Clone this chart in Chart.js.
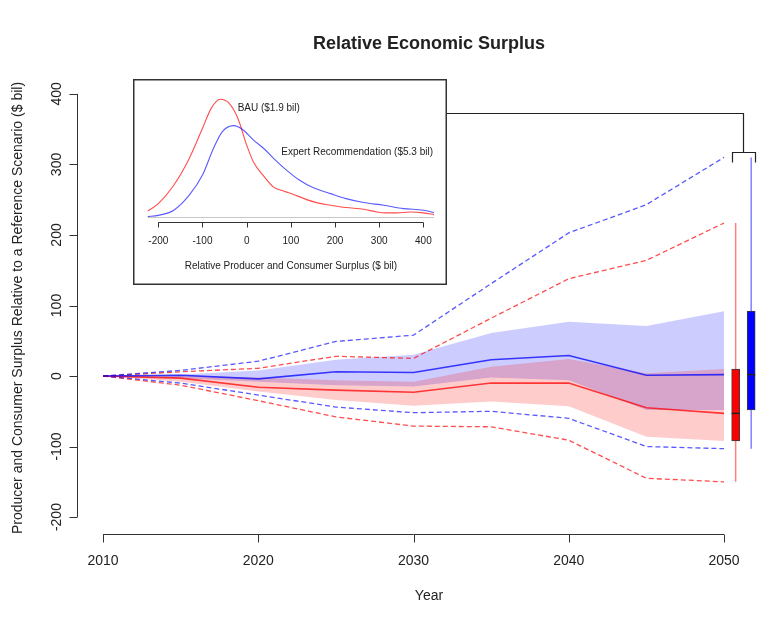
<!DOCTYPE html>
<html>
<head>
<meta charset="utf-8">
<script src="https://cdn.jsdelivr.net/npm/chart.js@4.4.1/dist/chart.umd.min.js"></script>
<style>
  body { margin: 0; background: #fff; }
  #wrap { position: relative; width: 774px; height: 620px; }
  #main { position: absolute; left: 0; top: 0; }
  #inset { position: absolute; left: 133px; top: 79px; background: #fff; }
</style>
</head>
<body>
<div id="wrap">
  <canvas id="main" width="774" height="620"></canvas>
  <canvas id="inset" width="314" height="206"></canvas>
</div>
<script>
// surplus relative to reference scenario, $ bil
const years = [2010, 2015, 2020, 2025, 2030, 2035, 2040, 2045, 2050];

// BAU (red) percentiles
const bauP95 = [0, 6, 11, 28, 25, 82, 138, 164, 217];
const bauP75 = [0, 0, -2, -6, -8, 13, 24, 4, 10];
const bauMed = [0, -3, -16, -20, -23, -10, -10, -45, -53];
const bauP25 = [0, -8, -22, -34, -42, -36, -43, -86, -92];
const bauP5 = [0, -13, -35, -58, -71, -72, -91, -145, -150];

// Expert recommendation (blue) percentiles
const recP95 = [0, 8, 21, 49, 58, 131, 203, 243, 310];
const recP75 = [0, 2, 8, 23, 30, 61, 77, 71, 92];
const recMed = [0, 1, -4, 6, 5, 23, 29, 1, 2];
const recP25 = [0, -3, -8, -13, -15, -2, -6, -48, -48];
const recP5 = [0, -10, -27, -44, -52, -50, -60, -100, -103];

// boxplots of the 2050 distribution, placed just right of 2050
const boxX = [2050.75, 2051.75];
const boxHalf = 0.26;

const yearTicks = [2010, 2020, 2030, 2040, 2050];
const surplusTicks = [-200, -100, 0, 100, 200, 300, 400];

// cumulative surplus densities for the inset
const bauDensX = [-225, -200, -165, -130, -100, -80, -60, -40, -20, 0, 15, 40, 60, 85, 105, 130, 160, 190, 225, 265, 295, 315, 340, 370, 400, 425];
const bauDens = [0.32, 0.75, 1.78, 3.28, 4.97, 6.10, 6.60, 6.38, 5.53, 4.03, 3.10, 2.25, 1.69, 1.44, 1.28, 1.03, 0.79, 0.66, 0.53, 0.43, 0.28, 0.23, 0.23, 0.28, 0.23, 0.13];
const recDensX = [-225, -200, -165, -130, -100, -75, -55, -30, -10, 15, 40, 65, 90, 120, 150, 190, 225, 265, 310, 355, 400, 425];
const recDens = [0.02, 0.09, 0.38, 1.22, 2.35, 3.85, 4.78, 5.12, 4.92, 4.32, 3.81, 3.19, 2.63, 2.06, 1.65, 1.31, 1.03, 0.81, 0.66, 0.47, 0.38, 0.24];
const densTicks = [-200, -100, 0, 100, 200, 300, 400];

const FONT = '"Liberation Sans", Arial, sans-serif';
const INK = '#222';

const pts = (xs, ys) => xs.map((v, i) => ({ x: v, y: ys[i] }));

const RED_LINE = 'rgba(255,0,0,0.7)';
const BLUE_LINE = 'rgba(0,0,255,0.65)';
const dashed = (vals, color) => ({
    data: pts(years, vals), borderColor: color, borderWidth: 1.3,
    borderDash: [5, 3], fill: false, order: 5
});

const datasets = [
    // interquartile bands
    { data: pts(years, recP75), borderWidth: 0, fill: '+1', backgroundColor: 'rgba(0,0,255,0.2)', order: 10 },
    { data: pts(years, recP25), borderWidth: 0, fill: false, order: 10 },
    { data: pts(years, bauP75), borderWidth: 0, fill: '+1', backgroundColor: 'rgba(255,0,0,0.2)', order: 9 },
    { data: pts(years, bauP25), borderWidth: 0, fill: false, order: 9 },
    // 5th / 95th percentiles
    dashed(recP95, BLUE_LINE),
    dashed(recP5, BLUE_LINE),
    dashed(bauP95, RED_LINE),
    dashed(bauP5, RED_LINE),
    // medians
    { data: pts(years, recMed), borderColor: 'rgba(0,0,255,0.75)', borderWidth: 1.6, fill: false, order: 4 },
    { data: pts(years, bauMed), borderColor: 'rgba(255,0,0,0.75)', borderWidth: 1.6, fill: false, order: 4 },
    // whiskers
    { data: [{ x: boxX[0], y: bauP5.at(-1) }, { x: boxX[0], y: bauP95.at(-1) }], borderColor: 'rgba(255,0,0,0.5)', borderWidth: 1.5, fill: false, order: 3 },
    { data: [{ x: boxX[1], y: recP5.at(-1) }, { x: boxX[1], y: recP95.at(-1) }], borderColor: 'rgba(0,0,255,0.5)', borderWidth: 1.5, fill: false, order: 3 },
    // boxes
    {
        type: 'bar', order: 2, grouped: false, barThickness: 8,
        data: [
            { x: boxX[0], y: [bauP25.at(-1), bauP75.at(-1)] },
            { x: boxX[1], y: [recP25.at(-1), recP75.at(-1)] }
        ],
        backgroundColor: ['#ff0000', '#0000ff'],
        borderColor: '#3a3a3a', borderWidth: 1, borderSkipped: false
    },
    // box medians
    { data: [{ x: boxX[0] - boxHalf, y: bauMed.at(-1) }, { x: boxX[0] + boxHalf, y: bauMed.at(-1) }], borderColor: '#222', borderWidth: 1.5, fill: false, order: 1 },
    { data: [{ x: boxX[1] - boxHalf, y: recMed.at(-1) }, { x: boxX[1] + boxHalf, y: recMed.at(-1) }], borderColor: '#222', borderWidth: 1.5, fill: false, order: 1 }
];

const insetRight = 133 + 314;
const insetLinkY = 113;
const bracketY = 318;
const centerX = 429;

const frame = {
    id: 'frame',
    afterDraw(chart) {
        const { ctx, chartArea } = chart;
        const x = chart.scales.x, y = chart.scales.y;
        ctx.save();
        ctx.strokeStyle = '#333';
        ctx.fillStyle = INK;
        ctx.lineWidth = 1;

        // x axis
        const xb = Math.round(chartArea.bottom) + 0.5;
        ctx.beginPath();
        ctx.moveTo(x.getPixelForValue(yearTicks[0]), xb);
        ctx.lineTo(x.getPixelForValue(yearTicks.at(-1)), xb);
        yearTicks.forEach(t => {
            const px = Math.round(x.getPixelForValue(t)) + 0.5;
            ctx.moveTo(px, xb);
            ctx.lineTo(px, xb + 8);
        });
        // y axis
        const yl = Math.round(chartArea.left) + 0.5;
        ctx.moveTo(yl, y.getPixelForValue(surplusTicks[0]));
        ctx.lineTo(yl, y.getPixelForValue(surplusTicks.at(-1)));
        surplusTicks.forEach(t => {
            const py = Math.round(y.getPixelForValue(t)) + 0.5;
            ctx.moveTo(yl, py);
            ctx.lineTo(yl - 8, py);
        });
        ctx.stroke();

        ctx.font = '14px ' + FONT;
        ctx.textAlign = 'center';
        ctx.textBaseline = 'middle';
        yearTicks.forEach(t => ctx.fillText(String(t), x.getPixelForValue(t), xb + 27));
        ctx.fillText('Year', centerX, 596);
        surplusTicks.forEach(t => {
            ctx.save();
            ctx.translate(yl - 20, y.getPixelForValue(t));
            ctx.rotate(-Math.PI / 2);
            ctx.fillText(String(t), 0, 0);
            ctx.restore();
        });
        ctx.save();
        ctx.translate(18, 308);
        ctx.rotate(-Math.PI / 2);
        ctx.fillText('Producer and Consumer Surplus Relative to a Reference Scenario ($ bil)', 0, 0);
        ctx.restore();

        ctx.font = 'bold 18px ' + FONT;
        ctx.fillText('Relative Economic Surplus', centerX, 44);

        // bracket tying the inset to the 2050 boxplots
        const bx0 = x.getPixelForValue(boxX[0] - boxHalf);
        const bx1 = x.getPixelForValue(boxX[1] + boxHalf);
        const bm = Math.round((bx0 + bx1) / 2) + 0.5;
        const by = Math.round(y.getPixelForValue(bracketY)) + 0.5;
        ctx.strokeStyle = '#222';
        ctx.lineWidth = 1.2;
        ctx.beginPath();
        ctx.moveTo(insetRight, insetLinkY + 0.5);
        ctx.lineTo(bm, insetLinkY + 0.5);
        ctx.lineTo(bm, by);
        ctx.moveTo(Math.round(bx0) + 0.5, by + 10);
        ctx.lineTo(Math.round(bx0) + 0.5, by);
        ctx.lineTo(Math.round(bx1) + 0.5, by);
        ctx.lineTo(Math.round(bx1) + 0.5, by + 10);
        ctx.stroke();
        ctx.restore();
    }
};

new Chart(document.getElementById('main'), {
    type: 'line',
    data: { datasets: datasets },
    options: {
        responsive: false,
        animation: false,
        devicePixelRatio: 1,
        layout: { padding: { left: 77, top: 77, right: 0, bottom: 86 } },
        scales: {
            x: { type: 'linear', min: 2008.32, max: 2053.22, offset: false, display: false },
            y: { type: 'linear', min: -224, max: 424, display: false }
        },
        elements: { point: { radius: 0 }, line: { tension: 0 } },
        plugins: { legend: { display: false }, tooltip: { enabled: false } }
    },
    plugins: [frame]
});

// inset: distribution of cumulative surplus
const insetFrame = {
    id: 'insetFrame',
    beforeDatasetsDraw(chart) {
        const { ctx, chartArea } = chart;
        const py = Math.round(chart.scales.y.getPixelForValue(0)) + 0.5;
        ctx.save();
        ctx.strokeStyle = '#c8c8c8';
        ctx.lineWidth = 1;
        ctx.beginPath();
        ctx.moveTo(chartArea.left, py);
        ctx.lineTo(chartArea.right, py);
        ctx.stroke();
        ctx.restore();
    },
    afterDraw(chart) {
        const { ctx, chartArea, width, height } = chart;
        const x = chart.scales.x, y = chart.scales.y;
        ctx.save();
        ctx.strokeStyle = '#333';
        ctx.lineWidth = 1.5;
        ctx.strokeRect(0.75, 0.75, width - 1.5, height - 1.5);

        const ab = Math.round(chartArea.bottom) + 0.5;
        ctx.lineWidth = 1;
        ctx.beginPath();
        ctx.moveTo(x.getPixelForValue(densTicks[0]), ab);
        ctx.lineTo(x.getPixelForValue(densTicks.at(-1)), ab);
        densTicks.forEach(t => {
            const px = Math.round(x.getPixelForValue(t)) + 0.5;
            ctx.moveTo(px, ab);
            ctx.lineTo(px, ab + 5);
        });
        ctx.stroke();

        ctx.fillStyle = INK;
        ctx.font = '10px ' + FONT;
        ctx.textAlign = 'center';
        ctx.textBaseline = 'middle';
        densTicks.forEach(t => ctx.fillText(String(t), x.getPixelForValue(t), ab + 19));
        ctx.fillText('Relative Producer and Consumer Surplus ($ bil)', (chartArea.left + chartArea.right) / 2, ab + 44);
        ctx.fillText('BAU ($1.9 bil)', x.getPixelForValue(50), y.getPixelForValue(6.1));
        ctx.fillText('Expert Recommendation ($5.3 bil)', x.getPixelForValue(250), y.getPixelForValue(3.65));
        ctx.restore();
    }
};

new Chart(document.getElementById('inset'), {
    type: 'line',
    data: {
        datasets: [
            { data: pts(recDensX, recDens), borderColor: 'rgba(0,0,255,0.65)', borderWidth: 1.1, fill: false, cubicInterpolationMode: 'monotone' },
            { data: pts(bauDensX, bauDens), borderColor: 'rgba(255,0,0,0.7)', borderWidth: 1.1, fill: false, cubicInterpolationMode: 'monotone' }
        ]
    },
    options: {
        responsive: false,
        animation: false,
        devicePixelRatio: 1,
        layout: { padding: { left: 14.7, right: 13, top: 15.5, bottom: 63.3 } },
        scales: {
            x: { type: 'linear', min: -224, max: 424, display: false },
            y: { type: 'linear', min: -0.264, max: 6.864, display: false }
        },
        elements: { point: { radius: 0 } },
        plugins: { legend: { display: false }, tooltip: { enabled: false } }
    },
    plugins: [insetFrame]
});
</script>
</body>
</html>
